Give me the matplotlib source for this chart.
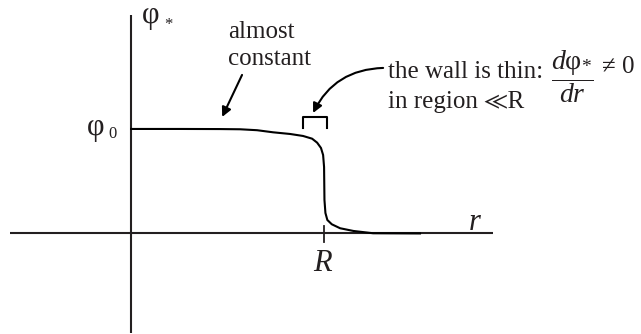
import matplotlib
matplotlib.use("Agg")
import matplotlib.pyplot as plt

plt.rcParams['mathtext.fontset'] = 'custom'
plt.rcParams['mathtext.rm'] = 'Liberation Serif'
plt.rcParams['mathtext.it'] = 'Liberation Serif:italic'
plt.rcParams['mathtext.bf'] = 'Liberation Serif:bold'

SERIF = ['Liberation Serif', 'STIXGeneral', 'DejaVu Sans']
INK = '#231f20'

# Profile of the field phi_*(r): r in units of R, phi in units of phi_0
R = 1.0
phi0 = 1.0
r_vals = [0.0, 0.254, 0.461, 0.565, 0.653, 0.736, 0.824, 0.891, 0.938,
          0.964, 0.984, 0.995, 1.000, 1.002, 1.007, 1.017, 1.040, 1.083,
          1.152, 1.254, 1.497]
phi_vals = [1.0, 1.0, 0.999, 0.997, 0.988, 0.968, 0.952, 0.933, 0.907,
            0.869, 0.818, 0.751, 0.636, 0.321, 0.196, 0.129, 0.088, 0.050,
            0.024, 0.002, 0.0]

fig = plt.figure(figsize=(6.41, 3.34), dpi=100)
ax = fig.add_axes([0, 0, 1, 1])
ax.set_xlim(-0.679, 2.642)
ax.set_ylim(-0.962, 2.234)
ax.axis('off')

lw = 1.5
# coordinate axes
ax.plot([-0.627, 1.876], [0, 0], color=INK, lw=lw, solid_capstyle='butt')
ax.plot([0, 0], [-0.952, 2.09], color=INK, lw=lw, solid_capstyle='butt')
# tick at R
ax.plot([R, R], [-0.081, 0.072], color=INK, lw=1.3)

# the profile
ax.plot(r_vals, phi_vals, color='black', lw=lw)

# axis labels
ax.text(0.057, 2.081, 'φ', family=SERIF, fontsize=22, ha='left', va='center',
        color=INK)
ax.text(0.171, 1.995, '*', family=SERIF, fontsize=12, ha='left', va='center',
        color=INK)
ax.text(-0.228, 1.014, 'φ', family=SERIF, fontsize=22, ha='left',
        va='center', color=INK)
ax.text(-0.119, 0.955, '0', family=SERIF, fontsize=12, ha='left',
        va='center', color=INK)
ax.text(0.990, -0.292, 'R', family=SERIF, style='italic', fontsize=22,
        ha='center', va='center', color=INK)
ax.text(1.782, 0.105, 'r', family=SERIF, style='italic', fontsize=22,
        ha='center', va='center', color=INK)

# "almost constant" note
ax.text(0.503, 1.871, 'almost', family=SERIF, fontsize=18,
        ha='left', va='baseline', color=INK)
ax.text(0.503, 1.612, 'constant', family=SERIF, fontsize=18,
        ha='left', va='baseline', color=INK)
ax.annotate('', xy=(0.472, 1.115), xytext=(0.575, 1.517),
            arrowprops=dict(arrowstyle='-|>', color='black', lw=1.5,
                            mutation_scale=14, shrinkA=0, shrinkB=0))

# bracket marking the wall
ax.plot([0.891, 0.891, 1.016, 1.016], [1.010, 1.115, 1.115, 1.010],
        color='black', lw=lw)

# thin-wall note
ax.annotate('', xy=(0.943, 1.153), xytext=(1.306, 1.584),
            arrowprops=dict(arrowstyle='-|>', color='black', lw=1.5,
                            mutation_scale=14, shrinkA=0, shrinkB=0,
                            connectionstyle='arc3,rad=0.3'))
ax.text(1.332, 1.488, 'the wall is thin:', family=SERIF, fontsize=18,
        ha='left', va='baseline', color=INK)
ax.text(1.332, 1.201, 'in region ≪R', family=SERIF, fontsize=18,
        ha='left', va='baseline', color=INK)
ax.text(2.176, 1.498, r'$\dfrac{d\mathrm{φ}_{*}}{dr}$', fontsize=20,
        ha='left', va='center', color=INK)
ax.text(2.440, 1.536, '≠ 0', family=SERIF, fontsize=18,
        ha='left', va='baseline', color=INK)

fig.savefig('out.png', dpi=100)
